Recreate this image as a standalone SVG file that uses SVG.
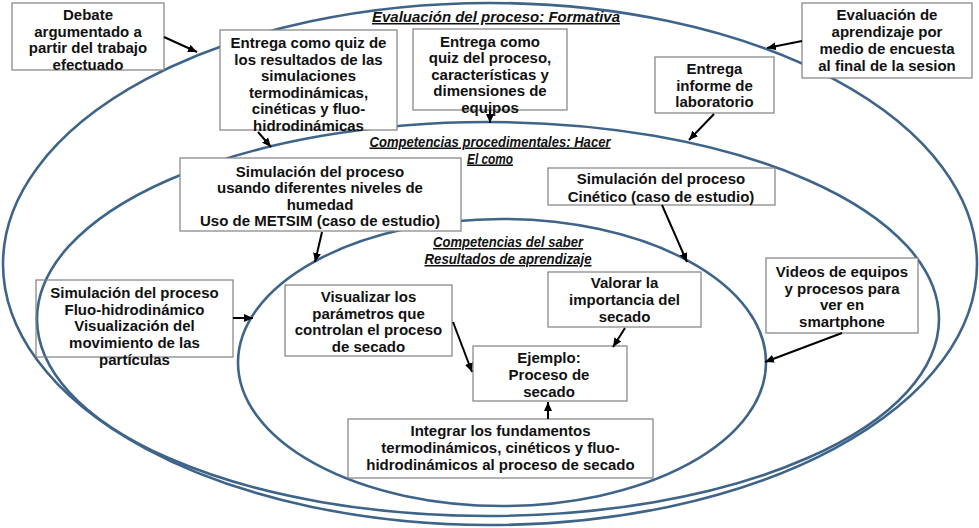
<svg xmlns="http://www.w3.org/2000/svg" width="979" height="528" viewBox="0 0 979 528">
<defs>
<style>
.ring{fill:none;stroke:#3f6489;stroke-width:2.6}
.box{fill:#fff;stroke:#808080;stroke-width:1.2}
.clear{fill:none}
.t{font-family:"Liberation Sans",Arial,sans-serif;font-weight:bold;font-size:15px;fill:#111;text-anchor:middle}
.h{font-family:"Liberation Sans",Arial,sans-serif;font-weight:bold;font-style:italic;font-size:15px;fill:#111;text-anchor:middle;text-decoration:underline}
.arr{stroke:#000;stroke-width:2;fill:none;marker-end:url(#ah)}
</style>
<marker id="ah" markerUnits="userSpaceOnUse" markerWidth="10" markerHeight="10" viewBox="0 0 10 10" refX="9" refY="5" orient="auto">
<path d="M0,1 L9,5 L0,9 Z" fill="#000"/>
</marker>
</defs>
<g id="rings">
<ellipse class="ring" cx="490" cy="264" rx="487" ry="261"/>
<ellipse class="ring" cx="488" cy="319" rx="451" ry="197"/>
<ellipse class="ring" cx="502" cy="362.5" rx="264" ry="143.5"/>
</g>
<g id="headings">
<text class="h" x="496" y="22" textLength="248" lengthAdjust="spacingAndGlyphs">Evaluación del proceso: Formativa</text>
<text class="h" x="490" y="146.5" textLength="241" lengthAdjust="spacingAndGlyphs">Competencias procedimentales:  Hacer</text>
<text class="h" x="490" y="163.5" textLength="46" lengthAdjust="spacingAndGlyphs">El como</text>
<text class="h" x="508" y="247" textLength="150" lengthAdjust="spacingAndGlyphs">Competencias del saber</text>
<text class="h" x="508" y="264" textLength="167" lengthAdjust="spacingAndGlyphs">Resultados de aprendizaje</text>
</g>
<g id="debate">
<rect class="box" x="12" y="3" width="152" height="67"/>
<text class="t" x="88" y="20">Debate</text>
<text class="t" x="88" y="36.5">argumentado a</text>
<text class="t" x="88" y="53">partir del trabajo</text>
<text class="t" x="88" y="69.5">efectuado</text>
</g>
<g id="quiz-resultados">
<rect class="box" x="220" y="30" width="177" height="100"/>
<text class="t" x="308.5" y="48">Entrega como quiz de</text>
<text class="t" x="308.5" y="64.6">los resultados de las</text>
<text class="t" x="308.5" y="81.2">simulaciones</text>
<text class="t" x="308.5" y="97.8">termodinámicas,</text>
<text class="t" x="308.5" y="114.4">cinéticas y fluo-</text>
<text class="t" x="308.5" y="131">hidrodinámicas</text>
</g>
<g id="quiz-proceso">
<rect class="box" x="413" y="29" width="154" height="81"/>
<text class="t" x="490" y="46.5">Entrega como</text>
<text class="t" x="490" y="63">quiz del proceso,</text>
<text class="t" x="490" y="79.5">características y</text>
<text class="t" x="490" y="96">dimensiones de</text>
<text class="t" x="490" y="112.5">equipos</text>
</g>
<g id="encuesta">
<rect class="box" x="802" y="3" width="170" height="75"/>
<text class="t" x="887" y="20">Evaluación de</text>
<text class="t" x="887" y="37">aprendizaje por</text>
<text class="t" x="887" y="54">medio de encuesta</text>
<text class="t" x="887" y="70.5">al final de la sesion</text>
</g>
<g id="informe">
<rect class="box" x="655" y="57" width="119" height="56"/>
<text class="t" x="714.5" y="74">Entrega</text>
<text class="t" x="714.5" y="90.5">informe de</text>
<text class="t" x="714.5" y="107">laboratorio</text>
</g>
<g id="metsim">
<rect class="box" x="180" y="158" width="281" height="73"/>
<text class="t" x="320" y="176.5">Simulación del proceso</text>
<text class="t" x="320" y="193">usando diferentes niveles de</text>
<text class="t" x="320" y="209.5">humedad</text>
<text class="t" x="320" y="226">Uso de METSIM (caso de estudio)</text>
</g>
<g id="cinetico">
<rect class="box" x="548" y="168" width="227" height="37"/>
<text class="t" x="661" y="184">Simulación del proceso</text>
<text class="t" x="661" y="202">Cinético (caso de estudio)</text>
</g>
<g id="fluo">
<rect class="box clear" x="36" y="280" width="197" height="77"/>
<text class="t" x="134.5" y="298">Simulación del proceso</text>
<text class="t" x="134.5" y="314.7">Fluo-hidrodinámico</text>
<text class="t" x="134.5" y="331.4">Visualización del</text>
<text class="t" x="134.5" y="348">movimiento de las</text>
<text class="t" x="134.5" y="365">partículas</text>
</g>
<g id="visualizar">
<rect class="box" x="285" y="285" width="167" height="71"/>
<text class="t" x="368.5" y="302">Visualizar los</text>
<text class="t" x="368.5" y="318.5">parámetros que</text>
<text class="t" x="368.5" y="335">controlan el proceso</text>
<text class="t" x="368.5" y="351.5">de secado</text>
</g>
<g id="valorar">
<rect class="box" x="548" y="272" width="153" height="55"/>
<text class="t" x="624.5" y="288">Valorar la</text>
<text class="t" x="624.5" y="305">importancia del</text>
<text class="t" x="624.5" y="322">secado</text>
</g>
<g id="ejemplo">
<rect class="box" x="473" y="346" width="154" height="55"/>
<text class="t" x="549" y="363">Ejemplo:</text>
<text class="t" x="549" y="380">Proceso de</text>
<text class="t" x="549" y="397">secado</text>
</g>
<g id="integrar">
<rect class="box" x="348" y="419" width="305" height="59"/>
<text class="t" x="500.5" y="436">Integrar los fundamentos</text>
<text class="t" x="500.5" y="453">termodinámicos, cinéticos y fluo-</text>
<text class="t" x="500.5" y="470">hidrodinámicos al proceso de secado</text>
</g>
<g id="videos">
<rect class="box" x="766" y="258" width="152" height="75"/>
<text class="t" x="842" y="277">Videos de equipos</text>
<text class="t" x="842" y="293.5">y procesos para</text>
<text class="t" x="842" y="310">ver en</text>
<text class="t" x="842" y="327">smartphone</text>
</g>
<g id="connectors">
<line class="arr" x1="164" y1="37" x2="197" y2="52"/>
<line class="arr" x1="258" y1="132" x2="271" y2="147"/>
<line class="arr" x1="490" y1="110" x2="490" y2="123"/>
<line class="arr" x1="802" y1="41" x2="767" y2="48"/>
<line class="arr" x1="714" y1="114" x2="689" y2="140"/>
<line class="arr" x1="322" y1="232" x2="315" y2="262"/>
<line class="arr" x1="662" y1="205" x2="687" y2="262"/>
<line class="arr" x1="233" y1="318" x2="253" y2="318"/>
<line class="arr" x1="453" y1="322" x2="472" y2="372"/>
<line class="arr" x1="625" y1="328" x2="613" y2="347"/>
<line class="arr" x1="548" y1="419" x2="548" y2="402"/>
<line class="arr" x1="842" y1="333" x2="765" y2="362"/>
</g>
</svg>
